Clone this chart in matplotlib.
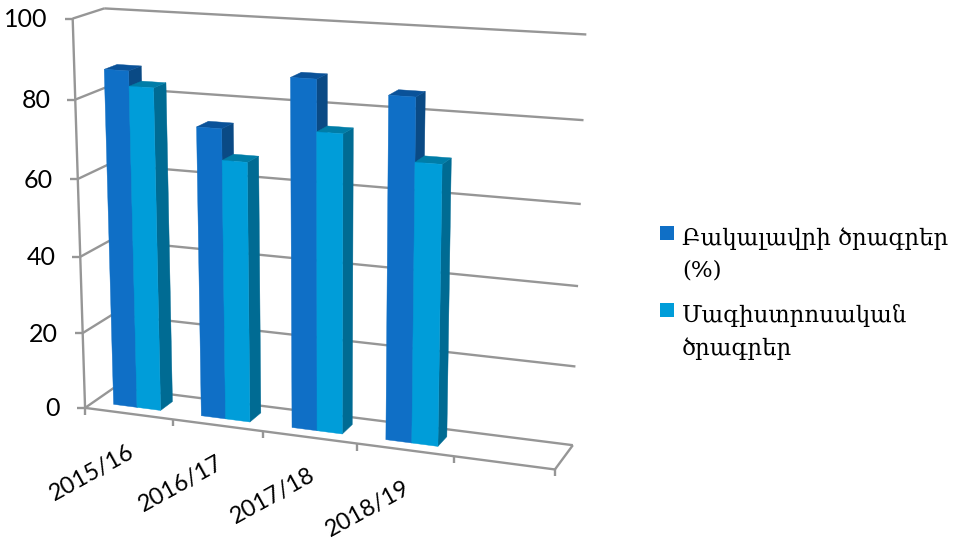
import numpy as np
import matplotlib
matplotlib.use('Agg')
import matplotlib.pyplot as plt
from matplotlib.patches import Polygon, Rectangle

categories = ['2015/16', '2016/17', '2017/18', '2018/19']
bachelor = [87, 74.3, 88, 85.3]
master = [83.2, 66.5, 75.3, 69.8]
y_ticks = [0, 20, 40, 60, 80, 100]
legend_labels = ['Բակալավրի ծրագրեր\n(%)', 'Մագիստրոսական\nծրագրեր']

GREY = '#969696'
DARK = ('#0F6FC6', '#0A5299', '#0A4A85')   # front, top, side
LIGHT = ('#009DD9', '#007DA8', '#006B93')

# fit the chart's perspective: (slot, value, depth) -> image pixels
anchors = [
    (0, 0, 0, 87, 407), (1, 0, 0, 173, 420), (2, 0, 0, 263, 431),
    (3, 0, 0, 357, 444), (4, 0, 0, 453, 457), (5, 0, 0, 555, 470),
    (0, 60, 0, 78, 179), (0, 80, 0, 75, 99), (0, 100, 0, 72, 18),
    (0, 0, 1, 113, 388), (0, 100, 1, 105, 9),
    (5, 0, 1, 572, 444), (5, 20, 1, 577, 365), (5, 40, 1, 579, 286),
    (5, 60, 1, 581, 205), (5, 80, 1, 584, 121), (5, 100, 1, 585, 34),
]
rows, rhs = [], []
for x, v, z, px, py in anchors:
    rows.append([x, v, z, 1, 0, 0, 0, 0, -px * x, -px * v, -px * z])
    rhs.append(px)
    rows.append([0, 0, 0, 0, x, v, z, 1, -py * x, -py * v, -py * z])
    rhs.append(py)
sol = np.linalg.lstsq(np.array(rows, float), np.array(rhs, float), rcond=None)[0]
P = np.append(sol, 1.0).reshape(3, 4)


def proj(x, v, z):
    h = P @ np.array([x, v, z, 1.0])
    return h[0] / h[2], h[1] / h[2]


fig = plt.figure(figsize=(9.56, 5.4), dpi=100)
ax = fig.add_axes([0, 0, 1, 1])
ax.set_xlim(0, 956)
ax.set_ylim(540, 0)
ax.axis('off')


def line(a, b):
    ax.plot(*zip(a, b), color=GREY, lw=1.7, solid_capstyle='butt', zorder=1)


# walls and floor
for v in y_ticks:
    line(proj(0, v, 1), proj(5, v, 1))
    line(proj(0, v, 0), proj(0, v, 1))
    x0, y0 = proj(0, v, 0)
    line((x0 - 8, y0), (x0, y0))
    ax.text(x0 - 25, y0 + 1, str(v), ha='right', va='center', fontsize=18,
            family='Lato', color='black')
line(proj(0, 0, 0), proj(0, 100, 0))
line(proj(0, 0, 0), proj(5, 0, 0))
line(proj(5, 0, 0), proj(5, 0, 1))
for i in range(6):
    x0, y0 = proj(i, 0, 0)
    line((x0, y0), (x0, y0 + 7))

# bars
BAR_W = 0.27
GAP = 0.23
Z0, Z1 = 0.29, 0.71


def box(x0, x1, v, colors):
    front, top, side = colors
    ax.add_patch(Polygon([proj(x1, 0, Z0), proj(x1, 0, Z1), proj(x1, v, Z1), proj(x1, v, Z0)],
                         fc=side, ec=side, lw=0.3, zorder=2))
    ax.add_patch(Polygon([proj(x0, v, Z0), proj(x1, v, Z0), proj(x1, v, Z1), proj(x0, v, Z1)],
                         fc=top, ec=top, lw=0.3, zorder=2))
    ax.add_patch(Polygon([proj(x0, 0, Z0), proj(x1, 0, Z0), proj(x1, v, Z0), proj(x0, v, Z0)],
                         fc=front, ec=front, lw=0.3, zorder=2))


for i, (b, m) in enumerate(zip(bachelor, master)):
    box(i + GAP, i + GAP + BAR_W, b, DARK)
    box(i + GAP + BAR_W, i + GAP + 2 * BAR_W, m, LIGHT)

# category labels
for i, cat in enumerate(categories):
    x0, y0 = proj(i + 0.5, 0, 0)
    ax.text(x0 - 37, y0 + 59, cat, rotation=29, rotation_mode='anchor',
            ha='center', va='center', fontsize=17, family='Lato', color='black')

# legend
for label, color, y in zip(legend_labels, [DARK[0], LIGHT[0]], [226, 303]):
    ax.add_patch(Rectangle((660, y), 14, 14, fc=color, ec='none'))
    ax.text(682, y + 1, label, ha='left', va='top', fontsize=16.5, linespacing=1.6,
            family='DejaVu Serif', color='black')

fig.savefig('out.png', dpi=100)
